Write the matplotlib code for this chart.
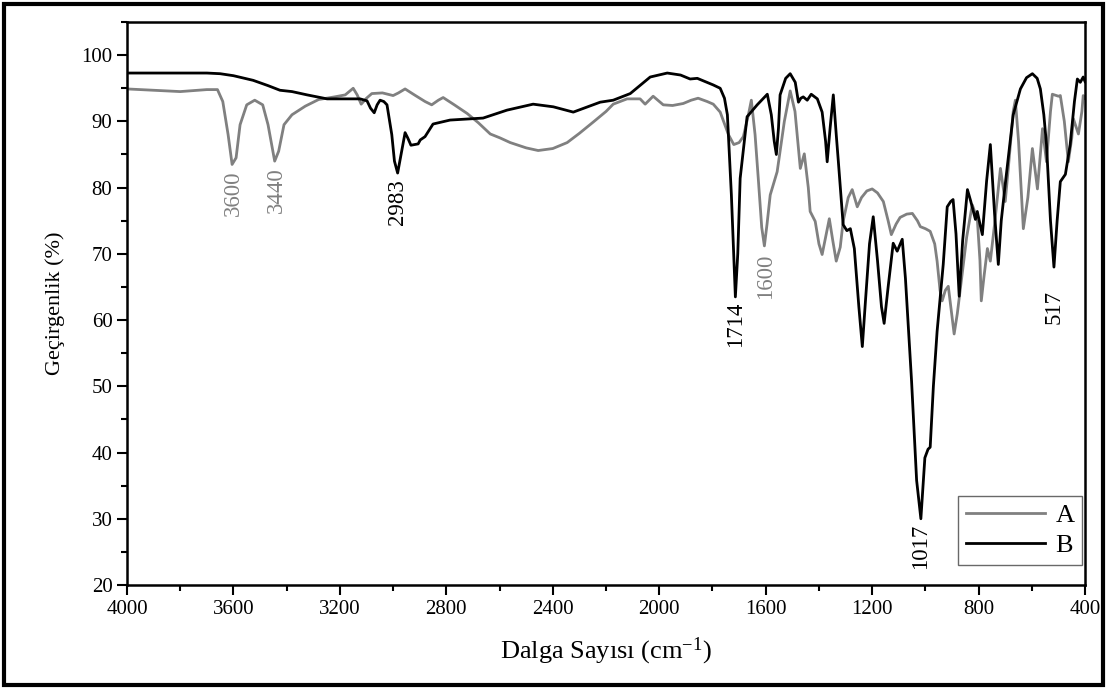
import matplotlib
matplotlib.use('Agg')
import matplotlib.pyplot as plt
import matplotlib.patches as patches
from matplotlib.ticker import MultipleLocator

plt.rcParams['font.family'] = ['Liberation Serif', 'DejaVu Serif']
plt.rcParams['mathtext.fontset'] = 'custom'
plt.rcParams['mathtext.rm'] = 'Liberation Serif'
plt.rcParams['mathtext.default'] = 'regular'

# --- spectrum A (gray) ---
a_wn = [4000, 3900, 3800, 3700, 3660, 3640, 3620, 3605, 3590, 3575, 3550, 3520, 3490, 3470,
        3445, 3430, 3410, 3380, 3330, 3280, 3220, 3180, 3150, 3135, 3120, 3100, 3080, 3040,
        3000, 2980, 2955, 2920, 2880, 2855, 2830, 2812, 2770, 2722, 2680, 2635, 2598, 2560,
        2500, 2455, 2400, 2346, 2300, 2248, 2200, 2173, 2121, 2072, 2053, 2023, 1985, 1950,
        1910, 1880, 1854, 1820, 1797, 1771, 1760, 1740, 1720, 1700, 1684, 1665, 1654, 1640,
        1628, 1615, 1605, 1595, 1583, 1557, 1530, 1508, 1490, 1470, 1455, 1440, 1433, 1414,
        1400, 1388, 1375, 1361, 1348, 1335, 1320, 1309, 1290, 1275, 1256, 1240, 1220, 1200,
        1180, 1158, 1140, 1128, 1110, 1095, 1070, 1049, 1030, 1019, 1000, 982, 965, 956,
        945, 937, 925, 914, 903, 892, 880, 862, 845, 824, 805, 795, 790, 780, 767, 756,
        740, 718, 700, 685, 670, 662, 650, 632, 615, 598, 579, 560, 545, 530, 523, 500,
        493, 478, 463, 450, 444, 425, 412, 407, 400]
a_t = [94.9, 94.7, 94.5, 94.8, 94.8, 93.0, 88.0, 83.5, 84.5, 89.5, 92.5, 93.2, 92.5, 89.5,
       84.0, 85.5, 89.5, 91.0, 92.3, 93.3, 93.7, 94.0, 95.0, 94.0, 92.6, 93.5, 94.2, 94.3,
       93.9, 94.3, 94.9, 94.0, 93.0, 92.5, 93.2, 93.6, 92.5, 91.2, 89.8, 88.1, 87.5, 86.8,
       86.0, 85.6, 85.9, 86.8, 88.2, 89.9, 91.5, 92.6, 93.4, 93.4, 92.6, 93.8, 92.5, 92.4,
       92.7, 93.2, 93.5, 93.0, 92.6, 91.4, 90.2, 88.0, 86.5, 86.8, 87.7, 91.0, 93.2, 88.0,
       81.4, 74.0, 71.2, 74.5, 78.9, 82.4, 90.0, 94.6, 91.5, 82.9, 85.1, 80.0, 76.4, 74.9,
       71.5, 69.9, 72.5, 75.3, 72.0, 68.9, 71.0, 74.9, 78.5, 79.7, 77.1, 78.5, 79.5, 79.8,
       79.2, 77.9, 75.0, 72.9, 74.5, 75.5, 76.0, 76.1, 75.0, 74.1, 73.8, 73.4, 71.5, 68.9,
       64.5, 62.9, 64.5, 65.1, 61.5, 57.9, 61.0, 66.9, 72.5, 77.4, 75.3, 69.0, 62.9, 66.5,
       70.8, 68.9, 74.5, 82.9, 77.9, 84.5, 91.5, 93.2, 87.0, 73.8, 78.5, 85.9, 79.8, 88.9,
       83.9, 91.5, 94.1, 93.8, 93.9, 90.0, 83.9, 87.5, 90.4, 88.1, 91.5, 93.9, 93.5]

# --- spectrum B (black) ---
b_wn = [4000, 3800, 3700, 3650, 3600, 3526, 3470, 3425, 3380, 3323, 3248, 3124, 3098, 3085,
        3071, 3060, 3049, 3035, 3023, 3005, 2995, 2983, 2970, 2955, 2945, 2933, 2906, 2898,
        2880, 2850, 2786, 2662, 2572, 2474, 2398, 2323, 2222, 2173, 2109, 2034, 1970, 1920,
        1884, 1857, 1797, 1771, 1755, 1744, 1729, 1714, 1705, 1696, 1670, 1632, 1594, 1579,
        1568, 1560, 1552, 1546, 1525, 1508, 1489, 1477, 1468, 1459, 1444, 1429, 1406, 1388,
        1375, 1369, 1358, 1346, 1335, 1327, 1309, 1295, 1282, 1267, 1250, 1237, 1225, 1210,
        1196, 1180, 1165, 1155, 1140, 1121, 1106, 1087, 1075, 1052, 1033, 1017, 1002, 990,
        982, 970, 956, 933, 918, 905, 896, 885, 873, 860, 842, 830, 812, 805, 795, 786,
        770, 756, 740, 726, 715, 700, 670, 643, 620, 598, 580, 568, 555, 545, 530, 517,
        505, 493, 474, 456, 440, 429, 418, 407, 400]
b_t = [97.3, 97.3, 97.3, 97.2, 96.9, 96.2, 95.4, 94.7, 94.5, 94.0, 93.4, 93.4, 93.1, 92.0,
       91.3, 92.5, 93.2, 93.0, 92.5, 88.0, 84.0, 82.2, 85.0, 88.3, 87.5, 86.4, 86.6, 87.2,
       87.7, 89.6, 90.2, 90.5, 91.7, 92.6, 92.2, 91.4, 92.9, 93.2, 94.2, 96.7, 97.3, 97.0,
       96.4, 96.5, 95.5, 95.0, 93.5, 91.0, 78.9, 63.5, 70.0, 81.4, 90.7, 92.5, 94.1, 91.0,
       87.0, 85.0, 89.0, 94.0, 96.5, 97.2, 95.9, 92.9, 93.5, 93.7, 93.2, 94.1, 93.4, 91.4,
       87.0, 83.9, 89.0, 94.0, 88.0, 83.9, 74.4, 73.5, 73.8, 70.8, 62.0, 56.0, 63.0, 71.5,
       75.6, 69.0, 62.0, 59.5, 65.0, 71.6, 70.4, 72.2, 66.3, 50.8, 35.8, 30.0, 39.2, 40.5,
       40.8, 50.0, 58.3, 68.4, 77.1, 77.9, 78.2, 73.0, 63.6, 72.0, 79.7, 78.0, 75.2, 76.4,
       74.5, 72.9, 81.0, 86.5, 76.0, 68.4, 75.0, 80.5, 91.0, 94.9, 96.6, 97.2, 96.5, 94.9,
       91.0, 86.5, 75.0, 68.0, 75.0, 80.9, 82.0, 86.5, 93.0, 96.4, 95.9, 96.7, 96.0]

# peak labels: (wavenumber, label top, text, colour)
peak_wn = [3600, 3440, 2983, 1714, 1600, 1017, 517]
peak_y = [82.6, 83.0, 81.2, 62.8, 70.0, 29.2, 64.5]
peak_txt = ['3600', '3440', '2983', '1714', '1600', '1017', '517']
peak_col = ['#808080', '#808080', 'black', 'black', '#808080', 'black', 'black']

fig = plt.figure(figsize=(11.07, 6.89), dpi=100)
ax = fig.add_axes([0.1147, 0.151, 0.8655, 0.817])

ax.plot(a_wn, a_t, color='#808080', lw=2.0, label='A')
ax.plot(b_wn, b_t, color='black', lw=2.0, label='B')

for w, y, t, c in zip(peak_wn, peak_y, peak_txt, peak_col):
    ax.text(w, y, t, rotation=90, ha='center', va='top', fontsize=16.5, color=c)

ax.set_xlim(4000, 400)
ax.set_ylim(20, 105)
ax.xaxis.set_major_locator(MultipleLocator(400))
ax.xaxis.set_minor_locator(MultipleLocator(200))
ax.yaxis.set_major_locator(MultipleLocator(10))
ax.yaxis.set_minor_locator(MultipleLocator(5))
ax.set_yticks(range(20, 101, 10))
ax.tick_params(which='major', direction='out', length=7, width=1.5, labelsize=15)
ax.tick_params(which='minor', direction='out', length=4, width=1.5)
for s in ax.spines.values():
    s.set_linewidth(1.8)

ax.set_xlabel(r'Dalga Sayısı (cm$^{-1}$)', fontsize=19, labelpad=12)
ax.set_ylabel('Geçirgenlik (%)', fontsize=16, labelpad=12)

leg = ax.legend(loc='lower right', bbox_to_anchor=(0.997, 0.035), fontsize=19,
                frameon=True, fancybox=False, edgecolor='#444444', handlelength=3.0,
                borderpad=0.3, labelspacing=0.25, handletextpad=0.4, borderaxespad=0)
leg.get_frame().set_linewidth(1.0)

# outer frame round the whole picture
fig.add_artist(patches.Rectangle((0.004, 0.006), 0.992, 0.988, transform=fig.transFigure,
                                 fill=False, lw=3, edgecolor='black'))

fig.savefig('out.png', dpi=100)
